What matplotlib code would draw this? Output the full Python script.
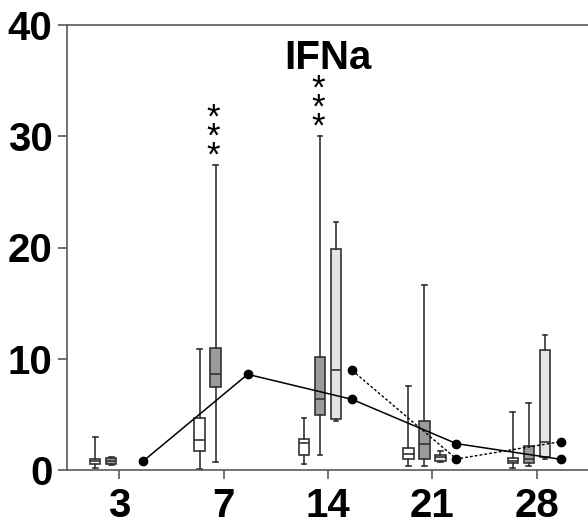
import matplotlib
matplotlib.use('Agg')
import matplotlib.pyplot as plt
import numpy as np

plt.rcParams['font.family'] = ['Liberation Sans', 'DejaVu Sans']

days = ['3', '7', '14', '21', '28']
y_ticks = [0, 10, 20, 30, 40]
title = 'IFNa'

# box statistics per day: whisker low, q1, median, q3, whisker high (None = no box)
white_lo = [0.2, 0.1, 0.5, 0.35, 0.18]
white_q1 = [0.55, 1.7, 1.35, 1.0, 0.6]
white_med = [0.78, 2.7, 2.45, 1.47, 0.84]
white_q3 = [1.0, 4.7, 2.8, 2.0, 1.1]
white_hi = [2.95, 10.9, 4.65, 7.55, 5.2]

dark_lo = [0.42, 0.7, 1.35, 0.36, 0.33]
dark_q1 = [0.55, 7.5, 4.9, 1.0, 0.66]
dark_med = [0.8, 8.6, 6.35, 2.37, 0.96]
dark_q3 = [1.05, 11.0, 10.15, 4.4, 2.13]
dark_hi = [1.15, 27.4, 30.0, 16.65, 6.05]

light_lo = [None, None, 4.4, 0.7, 0.96]
light_q1 = [None, None, 4.56, 0.78, 1.14]
light_med = [None, None, 8.96, 1.14, 2.5]
light_q3 = [None, None, 19.9, 1.38, 10.8]
light_hi = [None, None, 22.25, 1.74, 12.1]

solid_line = [0.8, 8.6, 6.35, 2.37, 0.96]
dotted_line = [None, None, 8.96, 0.99, 2.55]

stars_dark = ['', '***', '***', '', '']

fig = plt.figure(figsize=(5.88, 5.28), dpi=100)
ax = fig.add_axes([67 / 588, (528 - 470) / 528, 1 - 67 / 588, 445 / 528])

x = np.arange(len(days))
offsets = [-0.23, -0.077, 0.077, 0.23]
width = 0.1

def make_stats(lo, q1, med, q3, hi):
    out, pos = [], []
    for i in range(len(lo)):
        if med[i] is None:
            continue
        out.append(dict(whislo=lo[i], q1=q1[i], med=med[i], q3=q3[i], whishi=hi[i], fliers=[]))
        pos.append(i)
    return out, np.array(pos)

series = [
    ((white_lo, white_q1, white_med, white_q3, white_hi), offsets[0], 'white'),
    ((dark_lo, dark_q1, dark_med, dark_q3, dark_hi), offsets[1], '#9b9b9b'),
    ((light_lo, light_q1, light_med, light_q3, light_hi), offsets[2], '#e4e4e4'),
]
edge = '#333333'
for vals, off, fc in series:
    stats, pos = make_stats(*vals)
    ax.bxp(stats, positions=pos + off, widths=width, patch_artist=True,
           showfliers=False, capwidths=0.045,
           boxprops=dict(facecolor=fc, edgecolor=edge, linewidth=1.2),
           medianprops=dict(color=edge, linewidth=1.2),
           whiskerprops=dict(color=edge, linewidth=1.2),
           capprops=dict(color=edge, linewidth=1.2))

xs = x + offsets[3]
ax.plot(xs, solid_line, color='black', linewidth=1.1, marker='o', markersize=6, zorder=5)
dl = np.array([np.nan if v is None else v for v in dotted_line], dtype=float)
ax.plot(xs, dl, color='black', linewidth=1.0, linestyle=(0, (2, 1.5)), marker='o',
        markersize=6, zorder=5)

for i, s in enumerate(stars_dark):
    if not s:
        continue
    ax.text(i + offsets[1] - 0.02, dark_hi[i] + 5.75, '\n'.join(s), ha='center', va='top',
            fontsize=25, linespacing=0.47, color='black')

ax.text(0.5, (470 - 69) / 445, title, transform=ax.transAxes, ha='center', va='baseline',
        fontsize=29, fontweight='bold')

ax.set_xlim(-0.5, 4.49)
ax.set_ylim(0, 40)
ax.set_xticks(x)
ax.set_xticklabels(days)
ax.set_yticks(y_ticks)
ax.set_yticklabels([str(t) for t in y_ticks])

for sp in ['left', 'bottom', 'top']:
    ax.spines[sp].set_color('#5a5a5a')
    ax.spines[sp].set_linewidth(1.2)
ax.spines['right'].set_visible(False)
ax.tick_params(axis='both', direction='out', colors='#5a5a5a', width=1.2, length=6.5,
               labelcolor='black', labelsize=29)
ax.tick_params(axis='y', pad=4)
ax.tick_params(axis='x', pad=6)
for lab in ax.get_xticklabels() + ax.get_yticklabels():
    lab.set_fontweight('bold')

fig.savefig('out.png', dpi=100)
